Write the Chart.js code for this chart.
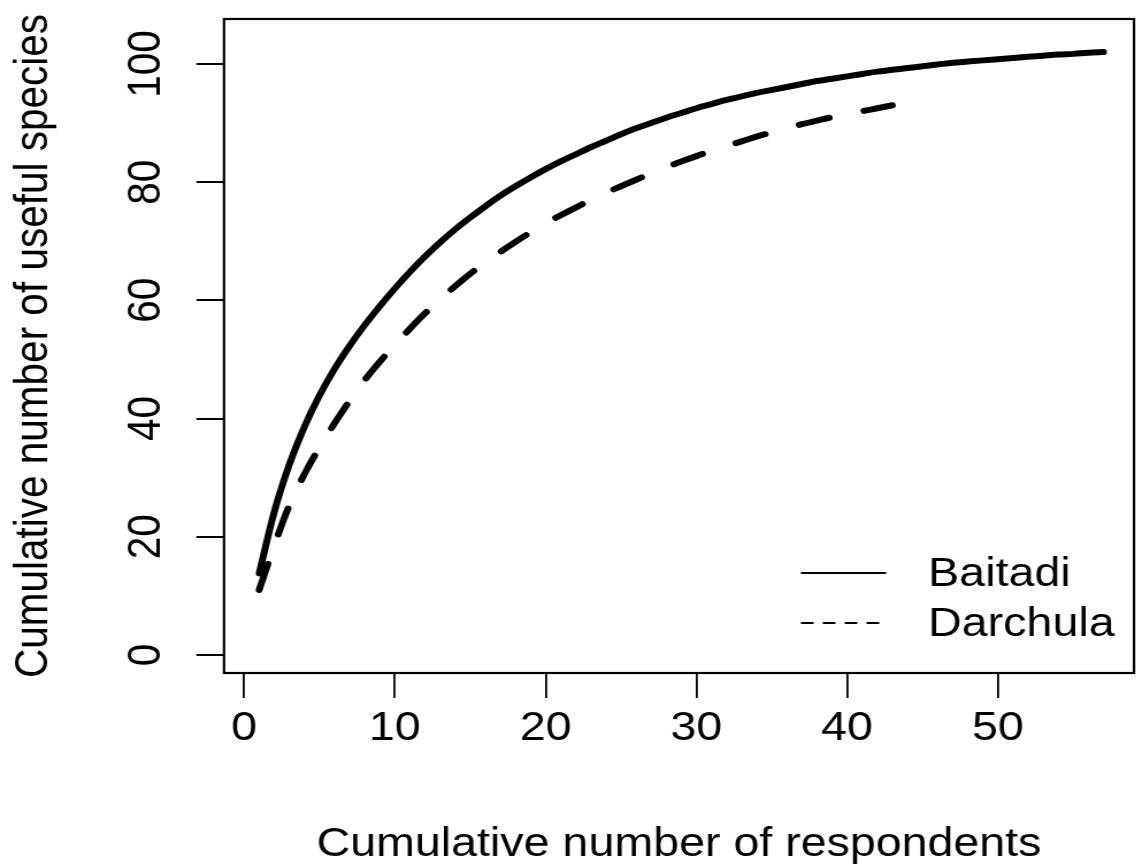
<!DOCTYPE html>
<html>
<head>
<meta charset="utf-8">
<title>Species accumulation curves</title>
<script src="https://cdn.jsdelivr.net/npm/chart.js@4.4.1/dist/chart.umd.min.js"></script>
<style>
  html, body { margin: 0; padding: 0; background: #fff; overflow: hidden; }
  /* the original R figure was stretched sideways, so draw narrow and widen */
  #wrap { width: 988px; height: 867px; transform: scaleX(1.15); transform-origin: 0 0; }
</style>
</head>
<body>
<div id="wrap"><canvas id="curveChart" width="988" height="867"></canvas></div>
<script>
// Cumulative number of useful species, one value per added respondent (1, 2, 3, ...)
const seriesNames = ['Baitadi', 'Darchula'];

const baitadi = [
    13.8, 24.2, 32.2, 38.6, 43.9, 48.4, 52.3, 55.8, 59.0, 62.0,
    64.8, 67.4, 69.8, 72.0, 74.0, 75.9, 77.7, 79.3, 80.8, 82.2,
    83.5, 84.7, 85.9, 87.0, 88.1, 89.1, 90.0, 90.9, 91.7, 92.5,
    93.2, 93.9, 94.5, 95.1, 95.6, 96.1, 96.6, 97.1, 97.5, 97.9,
    98.3, 98.7, 99.0, 99.3, 99.6, 99.9, 100.2, 100.4, 100.6, 100.8,
    101.0, 101.2, 101.4, 101.6, 101.7, 101.9, 102.0
];

const darchula = [
    11.0, 18.5, 25.3, 30.6, 35.1, 39.2, 43.0, 46.5, 49.6, 52.5,
    55.2, 57.8, 60.2, 62.4, 64.5, 66.4, 68.2, 69.9, 71.5, 73.0,
    74.4, 75.7, 77.0, 78.2, 79.3, 80.4, 81.5, 82.5, 83.5, 84.4,
    85.3, 86.1, 86.9, 87.7, 88.4, 89.1, 89.8, 90.4, 91.0, 91.5,
    92.0, 92.5, 93.0
];

const xTicks = [0, 10, 20, 30, 40, 50];
const yTicks = [0, 20, 40, 60, 80, 100];

const xTitle = 'Cumulative number of respondents';
const yTitle = 'Cumulative number of useful species';

// respondent count is the position in the list
function toPoints(values) {
    return values.map((v, i) => ({ x: i + 1, y: v }));
}

Chart.defaults.font.family = '"Liberation Sans", Arial, Helvetica, sans-serif';
Chart.defaults.font.size = 40.5;
Chart.defaults.color = '#000';

// R-style box round the plot region plus a frameless legend at bottom right
const boxAndLegend = {
    id: 'boxAndLegend',
    afterDraw(chart) {
        const { ctx, chartArea: a } = chart;
        ctx.save();
        ctx.strokeStyle = '#000';
        ctx.lineWidth = 2.2;
        ctx.strokeRect(a.left, a.top, a.right - a.left, a.bottom - a.top);

        const lineStart = a.right - 289.6;
        const textX = a.right - 179;
        chart.data.datasets.forEach((ds, i) => {
            const y = a.bottom - 100 + i * 50;
            ctx.beginPath();
            ctx.lineWidth = 2;
            ctx.lineCap = 'butt';
            if (ds.borderDash && ds.borderDash.length) {
                ctx.setLineDash([11, 8]);
                ctx.moveTo(lineStart, y);
                ctx.lineTo(lineStart + 68.7, y);
            } else {
                ctx.setLineDash([]);
                ctx.moveTo(lineStart, y);
                ctx.lineTo(lineStart + 74, y);
            }
            ctx.stroke();
            ctx.setLineDash([]);
            ctx.fillStyle = '#000';
            ctx.font = '40.5px "Liberation Sans", Arial, sans-serif';
            ctx.textAlign = 'left';
            ctx.textBaseline = 'middle';
            ctx.fillText(ds.label, textX, y + 2);
        });
        ctx.restore();
    }
};

const chart = new Chart(document.getElementById('curveChart'), {
    type: 'line',
    data: {
        datasets: [{
            label: seriesNames[0],
            data: toPoints(baitadi),
            borderColor: '#000',
            borderWidth: 6,
            borderCapStyle: 'round',
            borderJoinStyle: 'round',
            pointRadius: 0,
            fill: false,
            cubicInterpolationMode: 'monotone'
        }, {
            label: seriesNames[1],
            data: toPoints(darchula),
            borderColor: '#000',
            borderWidth: 6,
            borderDash: [27, 31],
            borderCapStyle: 'round',
            borderJoinStyle: 'round',
            pointRadius: 0,
            fill: false,
            cubicInterpolationMode: 'monotone'
        }]
    },
    options: {
        responsive: false,
        animation: false,
        events: [],
        layout: {
            padding: { top: 19, right: 1.9, bottom: 0, left: 0 }
        },
        plugins: {
            legend: { display: false },
            tooltip: { enabled: false }
        },
        scales: {
            x: {
                type: 'linear',
                min: -1.33,
                max: 59.03,
                afterBuildTicks: (s) => { s.ticks = xTicks.map(v => ({ value: v })); },
                afterFit: (s) => {
                    s.height = 194;
                    s.paddingLeft = 0;
                    s.paddingRight = 0;
                },
                border: { display: false },
                grid: {
                    drawOnChartArea: false,
                    drawTicks: true,
                    tickLength: 25,
                    color: '#000',
                    lineWidth: 1.8
                },
                ticks: {
                    minRotation: 0,
                    maxRotation: 0,
                    padding: 7,
                    color: '#000'
                },
                title: {
                    display: true,
                    text: xTitle,
                    color: '#000',
                    font: { size: 40.5, lineHeight: 1 },
                    padding: { top: 0, bottom: 2 }
                }
            },
            y: {
                type: 'linear',
                min: -3.05,
                max: 107.6,
                afterBuildTicks: (s) => { s.ticks = yTicks.map(v => ({ value: v })); },
                afterFit: (s) => {
                    s.width = 194.8;
                    s.paddingTop = 0;
                    s.paddingBottom = 0;
                },
                border: { display: false },
                grid: {
                    drawOnChartArea: false,
                    drawTicks: true,
                    tickLength: 24,
                    color: '#000',
                    lineWidth: 2
                },
                ticks: {
                    minRotation: 90,
                    maxRotation: 90,
                    crossAlign: 'center',
                    padding: 9,
                    color: '#000'
                },
                title: {
                    display: true,
                    text: yTitle,
                    color: '#000',
                    font: { size: 40.5, lineHeight: 1 },
                    padding: { top: 10, bottom: 0 }
                }
            }
        }
    },
    plugins: [boxAndLegend]
});
</script>
</body>
</html>
